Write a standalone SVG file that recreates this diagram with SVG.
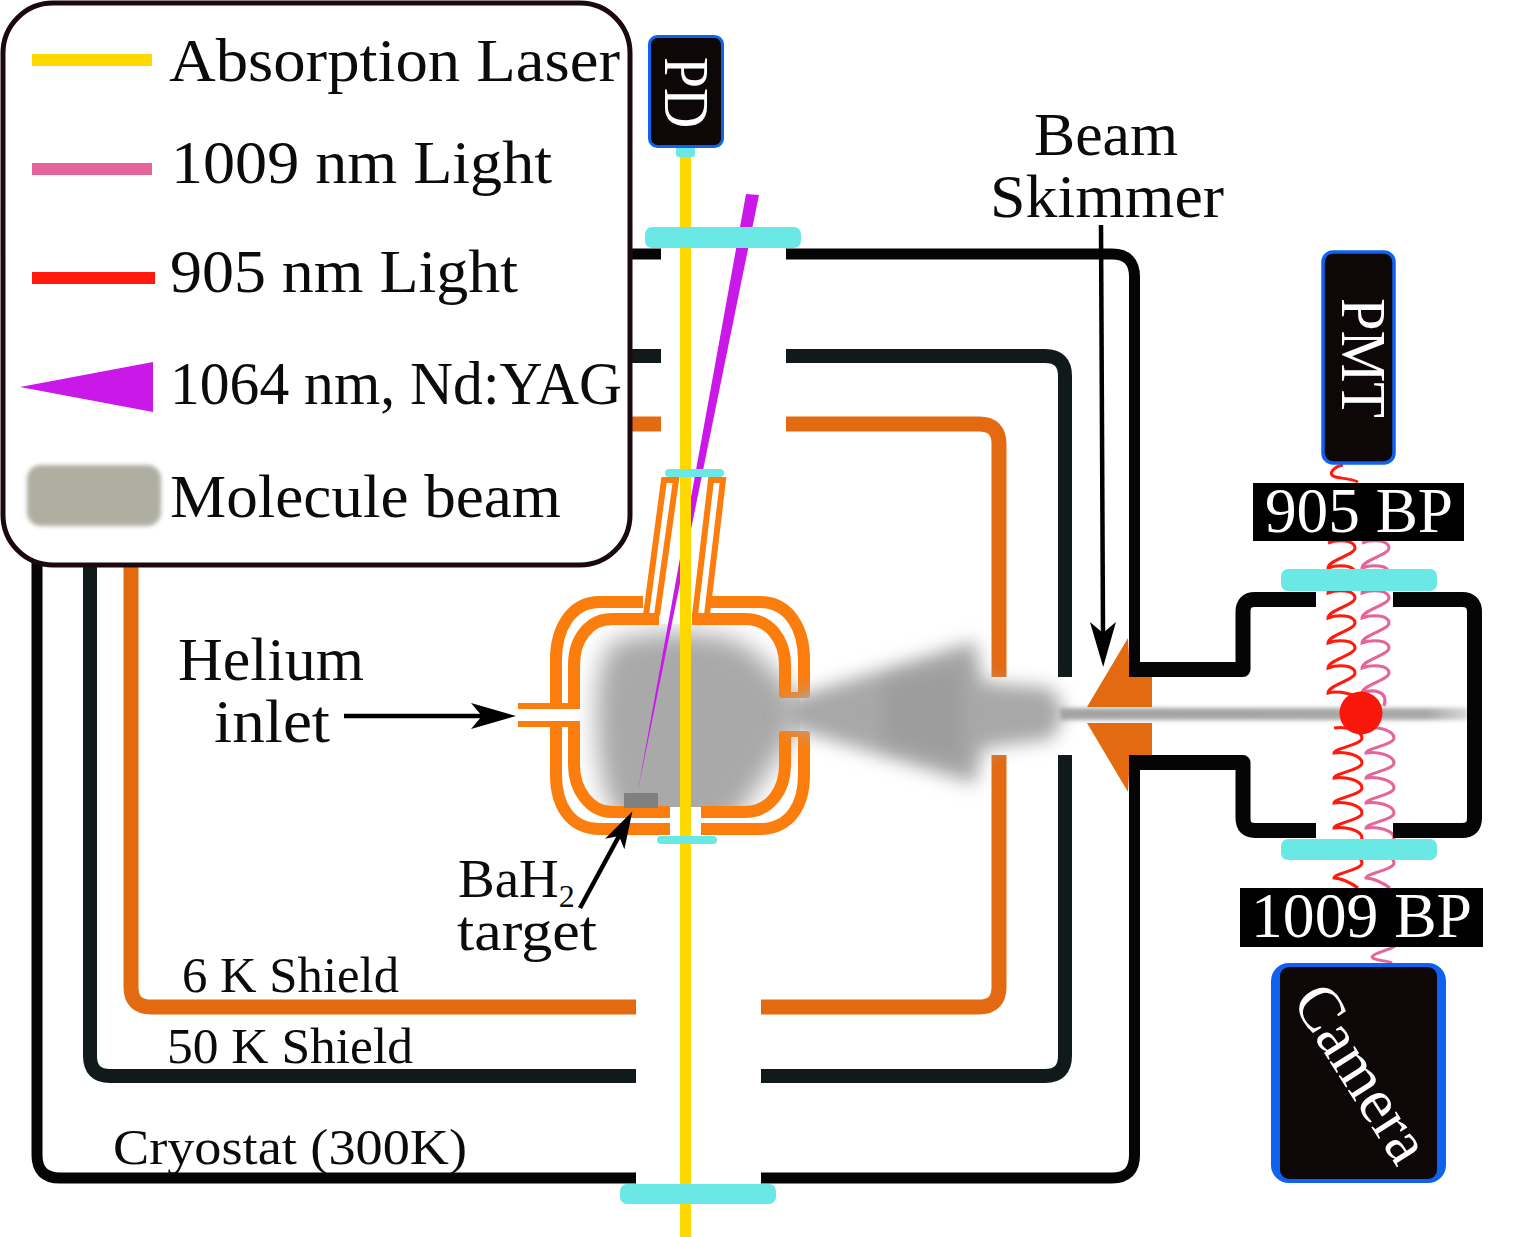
<svg xmlns="http://www.w3.org/2000/svg" width="1517" height="1237" viewBox="0 0 1517 1237">
<style>
.txt{font-family:"Liberation Serif","Times New Roman",serif;fill:#0b0b0b;font-size:62px}
.sm{font-size:51px}
.inv{fill:#fff}
.line{fill:none;stroke-linecap:butt;stroke-linejoin:round}
.cryo{stroke:#050505;stroke-width:11}
.k50{stroke:#111a1a;stroke-width:14}
.k6{stroke:#e36a10;stroke-width:15}
.cham{stroke:#050505;stroke-width:15}
.cell{fill:none;stroke:#fb7d0d;stroke-width:12}
.cellthin{fill:none;stroke:#fb7d0d;stroke-width:6}
.win{fill:#6ae8e6}
.red{fill:none;stroke:#ff1a0d;stroke-width:3}
.pink{fill:none;stroke:#e5659a;stroke-width:3}
.arrow{fill:none;stroke:#000;stroke-width:4.500}
</style>
<defs>
<filter id="blur11" x="-30%" y="-30%" width="160%" height="160%"><feGaussianBlur stdDeviation="12"/></filter>
<filter id="blur6" x="-30%" y="-30%" width="160%" height="160%"><feGaussianBlur stdDeviation="9"/></filter>
<filter id="blur3" x="-5%" y="-80%" width="110%" height="260%"><feGaussianBlur stdDeviation="2.200"/></filter>
<filter id="blur2" x="-10%" y="-10%" width="120%" height="120%"><feGaussianBlur stdDeviation="2"/></filter>
<clipPath id="cellClip"><rect x="560" y="624" width="240" height="183"/></clipPath>
<linearGradient id="beamFade" x1="0" x2="1" y1="0" y2="0"><stop offset="0" stop-color="#a3a3a3"/><stop offset=".9" stop-color="#a8a8a8"/><stop offset="1" stop-color="#d8d8d8"/></linearGradient>
<marker id="barb" markerUnits="userSpaceOnUse" markerWidth="50" markerHeight="30" refX="11" refY="13" orient="auto"><path d="M0,0 L45,13 L0,26 L11,13 Z" fill="#000"/></marker>
<marker id="barbS" markerUnits="userSpaceOnUse" markerWidth="40" markerHeight="26" refX="9" refY="11" orient="auto"><path d="M0,0 L37,11 L0,22 L9,11 Z" fill="#000"/></marker>
</defs>
<rect width="1517" height="1237" fill="#fff"/>

<!-- helium buffer gas cloud inside the cell -->
<g id="cloud" clip-path="url(#cellClip)">
<path d="M612,642 Q680,622 740,642 Q772,662 797,700 L797,725 Q777,762 747,803 L720,840 L635,840 Q598,805 597,730 Q593,670 612,642 Z" fill="#a9a9a9" filter="url(#blur11)"/>
</g>

<g id="yag-beam"><polygon points="746,194 759,195 638,790" fill="#c918e8"/></g>
<g id="probe-beam"><rect x="680" y="155" width="11" height="1082" fill="#ffd800"/></g>

<!-- radiation shields and vacuum can -->
<g id="cryostat">
<path class="line cryo" d="M636,1178 H60 Q37,1178 37,1155 V540"/>
<path class="line cryo" d="M761,1178 H1112 Q1134.500,1178 1134.500,1155 V763"/>
<path class="line cryo" d="M786,254 H1112 Q1134.500,254 1134.500,277 V669"/>
<path class="line cryo" d="M620,254 H661"/>
</g>
<g id="shield-50k">
<path class="line k50" d="M636,1076 H110 Q90,1076 90,1056 V540"/>
<path class="line k50" d="M761,1076 H1045 Q1065,1076 1065,1056 V755"/>
<path class="line k50" d="M1065,677 V376 Q1065,356 1045,356 H786"/>
<path class="line k50" d="M620,356 H661"/>
</g>
<g id="shield-6k">
<path class="line k6" d="M636,1007 H151 Q131,1007 131,987 V540"/>
<path class="line k6" d="M761,1007 H979 Q999,1007 999,987 V755"/>
<path class="line k6" d="M999,677 V444 Q999,424 979,424 H786"/>
<path class="line k6" d="M620,424 H661"/>
</g>

<!-- double-walled buffer gas cell -->
<g id="cell">
<path class="cell" d="M643,602 H600 C570,602 556,630 556,660 V703"/>
<path class="cell" d="M574,709 V665 C574,638 590,619 612,619 H659"/>
<path class="cell" d="M556,727 V775 C556,805 570,829 600,829 H670"/>
<path class="cell" d="M574,721 V765 C574,790 590,812 612,812 H670"/>
<path class="cell" d="M710,602 H760 C790,602 804,630 804,660 V695"/>
<path class="cell" d="M692,619 H745 C770,619 785,640 785,665 V695"/>
<path class="cell" d="M804,734 V775 C804,805 790,829 760,829 H701"/>
<path class="cell" d="M785,734 V765 C785,790 770,812 745,812 H701"/>
<path class="cellthin" d="M782,695 H807 M782,734 H807" stroke-linecap="round"/>
<path class="cellthin" d="M518,706 H580 M518,724 H580"/>
<path class="cellthin" d="M646,615 L664,480 H676 L657,615"/>
<path class="cellthin" d="M695,615 L711,480 H723 L707,615"/>
</g>
<g id="target"><rect x="624" y="793" width="34" height="15" fill="#808080"/></g>

<!-- expanding molecular beam -->
<g id="molecule-beam">
<path d="M785,700 L975,641 L983,682 L1052,688 L1065,713 L1052,739 L983,748 L975,784 L785,726 Z" fill="#a8a8a8" filter="url(#blur6)"/>
<path d="M884,684 L962,664 L962,761 L884,741 Z" fill="#9c9c9c" filter="url(#blur6)"/>
<rect x="1060" y="708" width="408" height="12" fill="url(#beamFade)" filter="url(#blur3)"/>
</g>

<g id="skimmer">
<polygon points="1087,707 1128,638 1130,675 1152,675 1152,707" fill="#e36a10"/>
<polygon points="1087,723 1152,723 1152,755 1130,755 1128,792" fill="#e36a10"/>
</g>

<!-- fluorescence paths, 905 nm and 1009 nm -->
<g id="fluorescence">
<path class="red" d="M1343,465 c-10,2 -13,8 -11,10 c3,4 15,2 26,7"/>
<path class="red" d="M1328,543 c10,-4 27,-3 27,5 c0,7 -27,12 -27,20 c10,-4 27,-3 27,5 c0,7 -27,12 -27,20 c10,-4 27,-3 27,5 c0,7 -27,12 -27,20 c10,-4 27,-3 27,5 c0,7 -27,12 -27,20 c10,-4 27,-3 27,5 c0,7 -27,12 -27,20 c10,-4 27,-3 27,5 c0,7 -27,12 -27,20 c8,-2 20,0 30,4"/>
<path class="pink" d="M1362,543 c10,-4 27,-3 27,5 c0,7 -27,12 -27,20 c10,-4 27,-3 27,5 c0,7 -27,12 -27,20 c10,-4 27,-3 27,5 c0,7 -27,12 -27,20 c10,-4 27,-3 27,5 c0,7 -27,12 -27,20 c10,-4 27,-3 27,5 c0,7 -27,12 -27,20 c10,-4 27,-3 27,5 c0,7 -27,12 -27,20 c10,-4 27,-3 22,13"/>
<path class="red" d="M1334,728 c10,-2 28,2 28,10 c0,7 -28,10 -28,15 c10,-2 28,2 28,10 c0,7 -28,10 -28,15 c10,-2 28,2 28,10 c0,7 -28,10 -28,15 c10,-2 28,2 28,10 c0,7 -28,10 -28,15 c10,-2 28,2 28,10 c0,7 -28,10 -28,15 c10,-2 28,2 28,10 c0,7 -28,10 -28,15 c6,0 16,4 24,10"/>
<path class="pink" d="M1366,728 c10,-2 28,2 28,10 c0,7 -28,10 -28,15 c10,-2 28,2 28,10 c0,7 -28,10 -28,15 c10,-2 28,2 28,10 c0,7 -28,10 -28,15 c10,-2 28,2 28,10 c0,7 -28,10 -28,15 c10,-2 28,2 28,10 c0,7 -28,10 -28,15 c10,-2 28,2 28,10 c0,7 -28,10 -28,15 c6,0 16,4 24,10"/>
<path class="pink" d="M1395,946 c-5,4 -22,7 -23,11 c2,4 14,3 20,6"/>
</g>

<!-- detection chamber -->
<g id="chamber">
<path class="line cham" d="M1129,669.500 H1243 V612 Q1243,599.500 1255,599.500 H1316"/>
<path class="line cham" d="M1393,599.500 H1462 Q1474.500,599.500 1474.500,612 V818 Q1474.500,830.500 1462,830.500 H1393"/>
<path class="line cham" d="M1129,762.500 H1243 V818 Q1243,830.500 1255,830.500 H1316"/>
</g>
<g id="excited-molecules"><circle cx="1361" cy="713" r="21.500" fill="#f9160a"/></g>

<!-- optical windows -->
<g id="windows">
<rect class="win" x="676" y="147" width="19" height="10" rx="3"/>
<rect class="win" x="645" y="227" width="156" height="21" rx="7"/>
<rect class="win" x="665" y="469" width="59" height="8" rx="4"/>
<rect class="win" x="657" y="836" width="60" height="8" rx="4"/>
<rect class="win" x="620" y="1184" width="156" height="20" rx="7"/>
<rect class="win" x="1281" y="569" width="156" height="22" rx="7"/>
<rect class="win" x="1281" y="839" width="156" height="21" rx="7"/>
</g>

<g id="pd">
<rect x="649.500" y="36.500" width="73" height="110" rx="8" fill="#0d0707" stroke="#0f62f0" stroke-width="3"/>
<text class="txt inv" style="font-size:63px" transform="translate(665,57) rotate(90)" textLength="71" lengthAdjust="spacingAndGlyphs">PD</text>
</g>
<g id="pmt">
<rect x="1323" y="252" width="71" height="211" rx="10" fill="#0d0707" stroke="#0f62f0" stroke-width="3.500"/>
<text class="txt inv" style="font-size:63px" transform="translate(1342,298) rotate(90)" textLength="120" lengthAdjust="spacingAndGlyphs">PMT</text>
</g>
<g id="filter-905">
<rect x="1253" y="483" width="211" height="58" fill="#000"/>
<text class="txt inv" x="1265" y="532" style="font-size:63px" textLength="188" lengthAdjust="spacingAndGlyphs">905 BP</text>
</g>
<g id="filter-1009">
<rect x="1240" y="888" width="243" height="59" fill="#000"/>
<text class="txt inv" x="1251" y="937" style="font-size:63px" textLength="221" lengthAdjust="spacingAndGlyphs">1009 BP</text>
</g>
<g id="camera">
<rect x="1271" y="963" width="175" height="220" rx="18" fill="#0f62f0"/>
<rect x="1280" y="967" width="157" height="212" rx="9" fill="#0d0707"/>
<text class="txt inv" style="font-size:64px" transform="translate(1291,1001) rotate(57.500)" textLength="198" lengthAdjust="spacingAndGlyphs">Camera</text>
</g>

<g id="connectors">
<path class="arrow" d="M1101,225 L1103,633" marker-end="url(#barb)"/>
<path class="arrow" d="M344,716 H482" marker-end="url(#barb)"/>
<path class="arrow" d="M580,908 L619,836" marker-end="url(#barbS)"/>
</g>

<!-- labels -->
<g id="labels">
<text class="txt" x="1034" y="155" textLength="144" lengthAdjust="spacingAndGlyphs">Beam</text>
<text class="txt" x="990" y="217" textLength="234" lengthAdjust="spacingAndGlyphs">Skimmer</text>
<text class="txt" x="178" y="680" textLength="186" lengthAdjust="spacingAndGlyphs">Helium</text>
<text class="txt" x="214" y="742" textLength="116" lengthAdjust="spacingAndGlyphs">inlet</text>
<text class="txt" x="458" y="897" style="font-size:55px">BaH<tspan dy="10" style="font-size:32px">2</tspan></text>
<text class="txt" x="457" y="950" style="font-size:56px" textLength="140" lengthAdjust="spacingAndGlyphs">target</text>
<text class="txt sm" x="182" y="992" textLength="217" lengthAdjust="spacingAndGlyphs">6 K Shield</text>
<text class="txt sm" x="167" y="1063" textLength="246" lengthAdjust="spacingAndGlyphs">50 K Shield</text>
<text class="txt sm" x="113" y="1164" textLength="354" lengthAdjust="spacingAndGlyphs">Cryostat (300K)</text>
</g>

<g id="legend">
<rect x="3" y="3" width="627" height="562" rx="50" fill="#fff" stroke="#1a0a10" stroke-width="5"/>
<rect x="32" y="54" width="120" height="12" fill="#ffd800"/>
<rect x="32" y="163" width="120" height="12" fill="#e5659a"/>
<rect x="32" y="272" width="123" height="12" fill="#ff1a0d"/>
<polygon points="20,387 153,362 153,412" fill="#c918e8"/>
<rect x="27" y="465" width="134" height="61" rx="14" fill="#aeaea1" filter="url(#blur2)"/>
<text class="txt" x="169" y="81" textLength="451" lengthAdjust="spacingAndGlyphs">Absorption Laser</text>
<text class="txt" x="171" y="183" textLength="381" lengthAdjust="spacingAndGlyphs">1009 nm Light</text>
<text class="txt" x="170" y="292" textLength="348" lengthAdjust="spacingAndGlyphs">905 nm Light</text>
<text class="txt" x="170" y="404" textLength="452" lengthAdjust="spacingAndGlyphs">1064 nm, Nd:YAG</text>
<text class="txt" x="170" y="517" textLength="391" lengthAdjust="spacingAndGlyphs">Molecule beam</text>
</g>
</svg>
